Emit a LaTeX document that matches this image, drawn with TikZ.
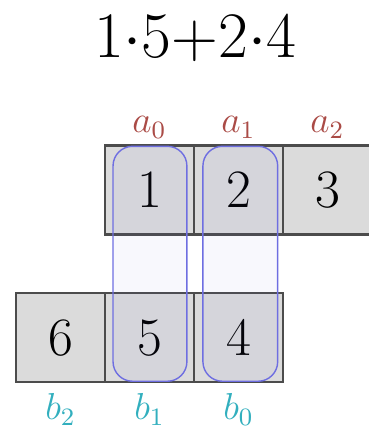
\documentclass[tikz,border=0pt]{standalone}
\usetikzlibrary{positioning}
\definecolor{alab}{RGB}{170,75,70}
\definecolor{blab}{RGB}{50,175,190}
\definecolor{pair}{RGB}{110,110,225}
\begin{document}
\begin{tikzpicture}[cell/.style = {draw = black!70, line width = 0.7pt, fill = black!14, minimum size = 1cm, inner sep = 0pt, font = \LARGE},
  pairbox/.style = {draw = pair, line width = 0.45pt, fill = pair, fill opacity = 0.05, rounded corners = 0.22cm}]
\useasboundingbox (0,0) rectangle (4.135,4.854);
\node at (2.19,4.42) (sum) {\huge $1{\cdot}5{+}2{\cdot}4$};
% top row
\node[cell] at (1.68,2.72) (a0) {$1$};
\node[cell] at (2.68,2.72) (a1) {$2$};
\node[cell] at (3.68,2.72) (a2) {$3$};
\node[alab, font = \large] at (1.68,3.42) (la0) {$a_0$};
\node[alab, font = \large] at (2.68,3.42) (la1) {$a_1$};
\node[alab, font = \large] at (3.68,3.42) (la2) {$a_2$};
% bottom row
\node[cell] at (0.68,1.06) (b2) {$6$};
\node[cell] at (1.68,1.06) (b1) {$5$};
\node[cell] at (2.68,1.06) (b0) {$4$};
\node[blab, font = \large] at (0.68,0.25) (lb2) {$b_2$};
\node[blab, font = \large] at (1.68,0.25) (lb1) {$b_1$};
\node[blab, font = \large] at (2.68,0.25) (lb0) {$b_0$};
% products
\filldraw[pairbox] (1.27,0.57) rectangle (2.10,3.21);
\filldraw[pairbox] (2.28,0.57) rectangle (3.12,3.21);
\end{tikzpicture}
\end{document}
